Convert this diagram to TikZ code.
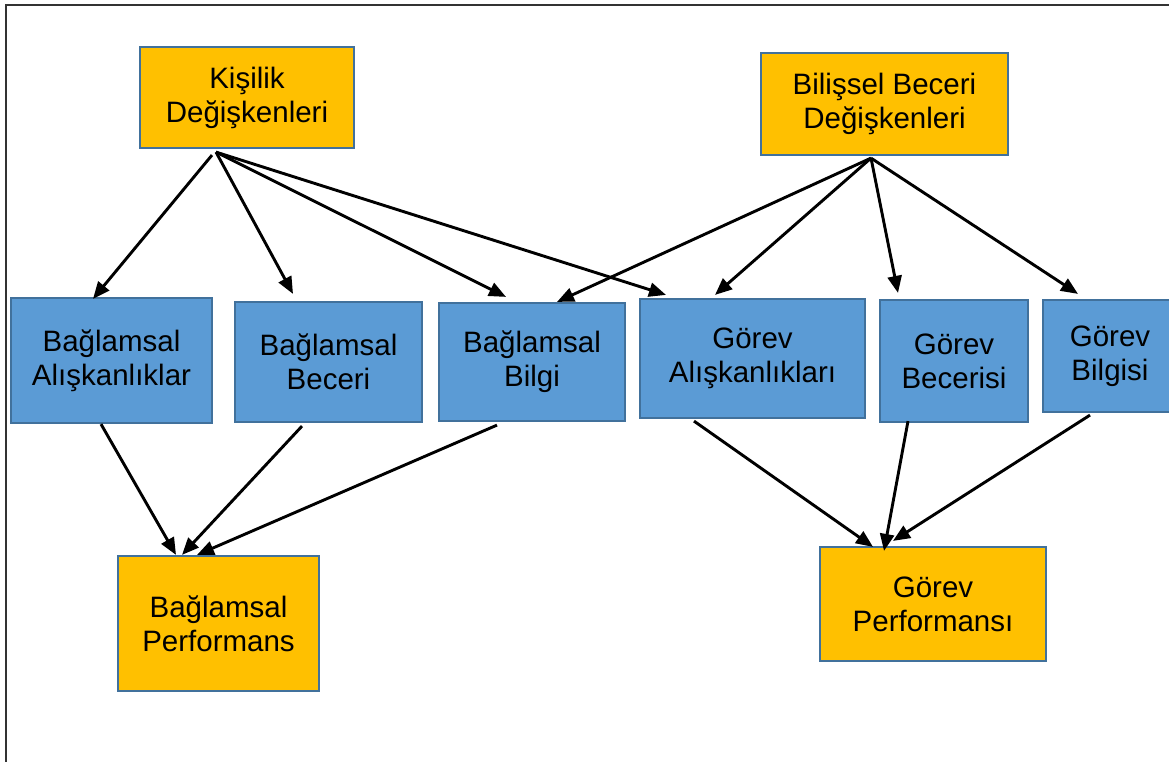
\documentclass[tikz,border=0pt]{standalone}
\usepackage{fontspec}
\setmainfont{Liberation Sans}
\usetikzlibrary{arrows.meta,calc}

\definecolor{boxgold}{HTML}{FFC000}
\definecolor{boxblue}{HTML}{5B9BD5}
\definecolor{boxedge}{HTML}{41719C}
\definecolor{framegray}{HTML}{333333}

\begin{document}
\begin{tikzpicture}[x=1pt,y=-1pt,
  box/.style={draw=boxedge, line width=2.2pt, align=center, inner sep=0pt,
              font=\fontsize{29.5}{34}\selectfont},
  goldbox/.style={box, fill=boxgold},
  bluebox/.style={box, fill=boxblue},
  arr/.style={line width=2.9pt, -{Triangle[length=17pt,width=14pt]}}]

\useasboundingbox (0,0) rectangle (1169,761);

% page frame (left and top edges)
\draw[framegray, line width=1.8pt] (6,765) -- (6,5) -- (1175,5);

% sources
\node[goldbox, minimum width=214pt, minimum height=101pt] (kis) at (247,97.5) {Kişilik\\Değişkenleri};
\node[goldbox, minimum width=247pt, minimum height=102pt] (bil) at (884.5,104) {Bilişsel Beceri\\Değişkenleri};

% middle row
\node[bluebox, minimum width=201pt, minimum height=125pt] (ba) at (111.5,360.5) {Bağlamsal\\Alışkanlıklar};
\node[bluebox, minimum width=187pt, minimum height=120pt] (bb) at (328.5,362) {Bağlamsal\\Beceri};
\node[bluebox, minimum width=186pt, minimum height=118pt] (bg) at (532,362) {Bağlamsal\\Bilgi};
\node[bluebox, minimum width=225pt, minimum height=119pt] (ga) at (752.5,358.5) {Görev\\Alışkanlıkları};
\node[bluebox, minimum width=148pt, minimum height=122pt] (gb) at (954,361) {Görev\\Becerisi};
\node[bluebox, minimum width=134pt, minimum height=112pt] (gg) at (1110,356) {Görev\\Bilgisi};

% outcomes
\node[goldbox, minimum width=201pt, minimum height=135pt] (bp) at (218.5,623.5) {Bağlamsal\\Performans};
\node[goldbox, minimum width=226pt, minimum height=114pt] (gp) at (933,604) {Görev\\Performansı};

% personality links
\draw[arr] ([shift={(-35,6)}]kis.south) -- ([shift={(-18.5,2)}]ba.north);
\draw[arr] ([shift={(-31,3)}]kis.south) -- ([shift={(-35.5,-7)}]bb.north);
\draw[arr] ([shift={(-31,3)}]kis.south) -- ([shift={(-26,-5)}]bg.north);
\draw[arr] ([shift={(-31,3)}]kis.south) -- ([shift={(-86.5,-3)}]ga.north);

% cognitive ability links
\draw[arr] ([shift={(-13.5,2)}]bil.south) -- ([shift={(25,0)}]bg.north);
\draw[arr] ([shift={(-13.5,2)}]bil.south) -- ([shift={(-37.5,-3)}]ga.north);
\draw[arr] ([shift={(-13.5,2)}]bil.south) -- ([shift={(-56,-6)}]gb.north);
\draw[arr] ([shift={(-13.5,2)}]bil.south) -- ([shift={(-32,-5)}]gg.north);

% contextual performance
\draw[arr] ([shift={(-10.5,0)}]ba.south) -- ([shift={(-42.5,0)}]bp.north);
\draw[arr] ([shift={(-26.5,3)}]bb.south) -- ([shift={(-36.5,0)}]bp.north);
\draw[arr] ([shift={(-35,3)}]bg.south) -- ([shift={(-21.5,0)}]bp.north);

% task performance
\draw[arr] ([shift={(-58.5,2)}]ga.south) -- ([shift={(-60,1)}]gp.north);
\draw[arr] ([shift={(-46,-2)}]gb.south) -- ([shift={(-49,5)}]gp.north);
\draw[arr] ([shift={(-20,2)}]gg.south) -- ([shift={(-40,-5)}]gp.north);

\end{tikzpicture}
\end{document}
